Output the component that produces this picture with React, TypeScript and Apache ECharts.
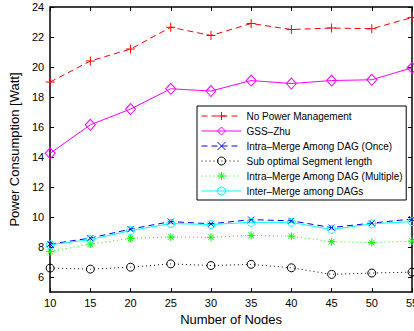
import React, { useEffect, useRef } from "react";
import * as echarts from "echarts";

// Number of nodes on the horizontal axis
const nodes = [10, 15, 20, 25, 30, 35, 40, 45, 50, 55];

// Power consumption (Watt) per scheme
const noPower = [19.0, 20.4, 21.2, 22.65, 22.1, 22.9, 22.5, 22.6, 22.55, 23.3];
const gssZhu = [14.25, 16.15, 17.2, 18.55, 18.4, 19.1, 18.9, 19.1, 19.15, 19.95];
const intraOnce = [8.2, 8.6, 9.2, 9.7, 9.55, 9.83, 9.75, 9.3, 9.6, 9.87];
const subOptimal = [6.6, 6.53, 6.66, 6.88, 6.77, 6.85, 6.62, 6.18, 6.27, 6.33];
const intraMultiple = [7.7, 8.2, 8.58, 8.67, 8.65, 8.78, 8.73, 8.36, 8.3, 8.4];
const interMerge = [8.15, 8.5, 9.1, 9.57, 9.5, 9.65, 9.65, 9.17, 9.55, 9.7];

const yTicks = [6, 8, 10, 12, 14, 16, 18, 20, 22, 24];

const FONT = "'Liberation Sans', Arial, Helvetica, sans-serif";

// Stroke-only marker glyphs
const PLUS = "path://M0,5 L10,5 M5,0 L5,10";
const CROSS = "path://M0,0 L10,10 M10,0 L0,10";
const STAR = "path://M0,5 L10,5 M5,0 L5,10 M1.5,1.5 L8.5,8.5 M8.5,1.5 L1.5,8.5";

const pairs = (ys: number[]) => nodes.map((x, i) => [x, ys[i]]);

function lineSeries(
  name: string,
  ys: number[],
  color: string,
  dash: any,
  symbol: string,
  symbolSize: any
) {
  return {
    name,
    type: "line",
    data: pairs(ys),
    symbol,
    symbolSize,
    showSymbol: true,
    lineStyle: { color, width: 1, type: dash },
    itemStyle: {
      color: "rgba(0,0,0,0)",
      borderColor: color,
      borderWidth: 1,
    },
    emphasis: { disabled: true },
    z: 2,
  };
}

export default function App() {
  const ref = useRef<HTMLDivElement>(null);

  useEffect(() => {
    if (!ref.current) return;
    const chart = echarts.init(ref.current, undefined, { renderer: "svg" });

    const axisLine = { show: true, lineStyle: { color: "#000", width: 1.5 } };
    const tickIn = { show: true, inside: true, length: 4, lineStyle: { color: "#000", width: 1 } };

    chart.setOption({
      animation: false,
      backgroundColor: "#fff",
      textStyle: { fontFamily: FONT },
      grid: { left: 45, right: 28, top: 7, bottom: 34, containLabel: false },
      legend: {
        orient: "vertical",
        left: 197,
        top: 106,
        backgroundColor: "#fff",
        borderColor: "#000",
        borderWidth: 1,
        borderRadius: 0,
        padding: [4, 3, 3, 4],
        itemWidth: 40,
        itemHeight: 10,
        itemGap: 3,
        lineStyle: { width: 1 },
        itemStyle: { borderWidth: 1 },
        textStyle: { fontSize: 10, color: "#000", fontFamily: FONT, lineHeight: 12 },
        selectedMode: false,
      },
      xAxis: [
        {
          type: "value",
          min: 10,
          max: 55,
          interval: 5,
          name: "Number of Nodes",
          nameLocation: "middle",
          nameGap: 17,
          nameTextStyle: { fontSize: 13, color: "#000", fontFamily: FONT },
          axisLine,
          axisTick: tickIn,
          axisLabel: { fontSize: 11, color: "#000", margin: 5, fontFamily: FONT },
          splitLine: { show: false },
        },
        {
          type: "value",
          position: "top",
          min: 10,
          max: 55,
          interval: 5,
          axisLine,
          axisTick: tickIn,
          axisLabel: { show: false },
          splitLine: { show: false },
        },
      ],
      yAxis: [
        {
          type: "value",
          min: 5,
          max: 24,
          name: "Power Consumption [Watt]",
          nameLocation: "middle",
          nameGap: 26,
          nameTextStyle: { fontSize: 13, color: "#000", fontFamily: FONT },
          axisLine,
          axisTick: { ...tickIn, customValues: yTicks },
          axisLabel: { fontSize: 11, color: "#000", margin: 6, fontFamily: FONT, customValues: yTicks },
          splitLine: { show: false },
        },
        {
          type: "value",
          position: "right",
          min: 5,
          max: 24,
          axisLine,
          axisTick: { ...tickIn, customValues: yTicks },
          axisLabel: { show: false, customValues: yTicks },
          splitLine: { show: false },
        },
      ],
      series: [
        lineSeries("No Power Management", noPower, "#ff0000", [6, 4], PLUS, 9),
        lineSeries("GSS–Zhu", gssZhu, "#ff00ff", "solid", "diamond", [10, 11]),
        lineSeries("Intra–Merge Among DAG (Once)", intraOnce, "#0000ff", [6, 4], CROSS, 6),
        lineSeries("Sub optimal Segment length", subOptimal, "#000000", [1, 3], "circle", 8),
        lineSeries("Intra–Merge Among DAG (Multiple)", intraMultiple, "#00ff00", [1, 3], STAR, 8),
        lineSeries("Inter–Merge among DAGs", interMerge, "#00ffff", "solid", "circle", 8),
      ],
    });

    return () => chart.dispose();
  }, []);

  return (
    <div
      ref={ref}
      style={{ position: "fixed", left: 0, top: 0, width: 440, height: 331, background: "#fff" }}
    />
  );
}
